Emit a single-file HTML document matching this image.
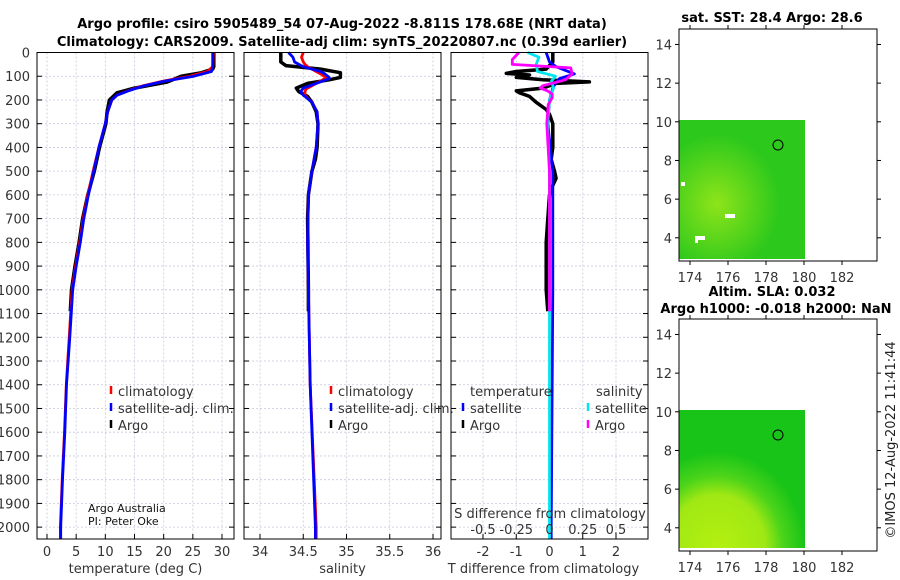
<!DOCTYPE html>
<html><head><meta charset="utf-8">
<style>
body{margin:0;background:#fff;}
svg{display:block;font-family:"DejaVu Sans","Liberation Sans",sans-serif;}
.tick{font-size:13px;fill:#333;}
.ttl{font-size:13px;font-weight:bold;fill:#000;}
</style></head>
<body>
<svg id="fig" width="900" height="580" viewBox="0 0 900 580" xmlns="http://www.w3.org/2000/svg">
<defs>
<radialGradient id="g1" cx="0.3" cy="0.6" r="0.5"><stop offset="0" stop-color="#8ee41a"/><stop offset="1" stop-color="#2cc81c"/></radialGradient>
<radialGradient id="g2" cx="0.3" cy="1" r="0.7"><stop offset="0" stop-color="#b4f010"/><stop offset="0.55" stop-color="#a0e814"/><stop offset="0.75" stop-color="#4cd41a"/><stop offset="1" stop-color="#18c418"/></radialGradient>
</defs>
<text class="ttl" x="342" y="28" text-anchor="middle">Argo profile: csiro 5905489_54 07-Aug-2022 -8.811S 178.68E (NRT data)</text>
<text class="ttl" x="342" y="46" text-anchor="middle">Climatology: CARS2009. Satellite-adj clim: synTS_20220807.nc (0.39d earlier)</text>
<g id="plots"></g>
<g>
<text class="ttl" x="772" y="22" text-anchor="middle">sat. SST: 28.4 Argo: 28.6</text>
<rect x="679" y="120" width="126" height="139" fill="url(#g1)"/>
<rect x="681" y="182" width="4" height="4" fill="#fff"/>
<rect x="695" y="236" width="10" height="4" fill="#fff"/>
<rect x="695" y="238" width="3" height="5" fill="#fff"/>
<rect x="725" y="214" width="10" height="4" fill="#fff"/>
<circle cx="778" cy="145" r="5" fill="none" stroke="#000" stroke-width="1"/>
<rect x="679" y="29" width="198" height="232" fill="none" stroke="#000" stroke-width="1"/>
</g>
<g>
<text class="ttl" x="772" y="296" text-anchor="middle">Altim. SLA: 0.032</text>
<text class="ttl" x="776" y="313" text-anchor="middle">Argo h1000: -0.018 h2000: NaN</text>
<rect x="679" y="410" width="126" height="138" fill="url(#g2)"/>
<circle cx="778" cy="435" r="5" fill="none" stroke="#000" stroke-width="1"/>
<rect x="679" y="319" width="198" height="232" fill="none" stroke="#000" stroke-width="1"/>
</g>
<g id="mapticks"></g>
<text x="895" y="440" transform="rotate(-90 895 440)" text-anchor="middle" style="font-size:13px;fill:#222">©IMOS 12-Aug-2022 11:41:44</text>
</svg>
<script>
const depthT = [0,60,80,100,120,140,160,180,200,250,300,400,500,600,700,800,900,1000,1200,1400,1600,1800,2000,2050];
const tClim  = [28.5,28.4,27.5,24.5,20,16.5,14,12,11.1,10.4,10.0,8.9,7.9,7.0,6.2,5.6,4.9,4.3,3.8,3.3,3.0,2.6,2.3,2.3];
const tSat   = [28.4,28.4,28.2,25.2,20.3,16.7,14.1,12.0,11.1,10.4,10.0,8.9,8.0,7.1,6.3,5.7,5.0,4.4,3.9,3.35,3.05,2.65,2.35,2.35];
const depthTA = [0,60,70,85,100,125,150,170,200,250,300,400,500,600,700,800,900,1000,1090];
const tArgo  = [28.6,28.6,28.4,26.5,23.0,20.5,15.0,12.0,10.7,10.3,10.1,9.0,8.1,7.0,6.1,5.5,4.8,4.2,4.0];
const depthS = [0,20,40,50,60,80,90,105,110,130,150,155,165,180,185,210,250,300,400,500,600,800,1000,1400,2000,2050];
const sClim  = [34.5,34.48,34.5,34.52,34.55,34.65,34.7,34.76,34.75,34.65,34.55,34.53,34.52,34.52,34.53,34.6,34.66,34.67,34.65,34.6,34.56,34.55,34.56,34.58,34.65,34.65];
const sSat   = [34.33,34.38,34.4,34.45,34.5,34.7,34.75,34.8,34.8,34.65,34.5,34.49,34.47,34.5,34.52,34.6,34.66,34.67,34.65,34.6,34.56,34.55,34.56,34.58,34.64,34.64];
const depthSA = [0,40,55,70,85,105,115,130,150,165,185,210,250,300,400,450,500,600,700,1000,1090];
const sArgo  = [34.24,34.24,34.3,34.7,34.93,34.93,34.8,34.55,34.42,34.45,34.55,34.6,34.65,34.67,34.66,34.64,34.6,34.56,34.55,34.56,34.56];
const depthDT = [0,40,70,80,88,95,105,115,124,130,150,162,170,185,210,240,260,300,400,450,500,530,560,600,700,800,900,1000,1090];
const dTArgo = [0.1,0.1,-0.1,-1.0,-1.3,-0.6,-1.0,-0.2,1.2,0.2,-0.2,-1.0,-0.9,-0.6,-0.4,-0.1,0.0,0.1,0.1,0.05,0.15,0.2,0.1,0.0,-0.05,-0.1,-0.1,-0.1,-0.05];
const depthDS = [0,40,60,90,110,125,150,200,300,500,1000,2000,2050];
const dTSat  = [-0.1,0.0,0.2,0.75,0.3,0.2,0.1,0.0,-0.05,0.1,0.1,0.05,0.05];
const depthCS = [0,20,50,80,100,120,150,200,300,500,1000,2000,2050];
const dSSat  = [-0.165,-0.08,-0.1,-0.09,0.045,0.015,0.03,0.0,-0.015,0.0,0.0,0.0,0.0];
const depthMS = [0,30,50,65,90,115,140,150,160,175,190,220,300,500,1090];
const dSArgo = [-0.23,-0.28,-0.28,0.16,0.17,0.12,-0.05,-0.07,-0.02,0.02,0.02,-0.01,-0.02,0.0,0.0];
const depthTicks = [0,100,200,300,400,500,600,700,800,900,1000,1100,1200,1300,1400,1500,1600,1700,1800,1900,2000];
const tTicks = [0,5,10,15,20,25,30];
const sTicks = [34,34.5,35,35.5,36];
const sTickLabels = ["34","34.5","35","35.5","36"];
const dTTicks = [-2,-1,0,1,2];
const dSTicks = [-0.5,-0.25,0,0.25,0.5];
const dSTickLabels = ["-0.5","-0.25","0","0.25","0.5"];
const lonTicks = [174,176,178,180,182];
const latTicks = [4,6,8,10,12,14];

const NS="http://www.w3.org/2000/svg";
const root=document.getElementById('plots');
function mk(tag,attrs,parent){const e=document.createElementNS(NS,tag);for(const k in attrs)e.setAttribute(k,attrs[k]);(parent||root).appendChild(e);return e;}
const yTop=52.5, yBot=539, dmax=2050;
const yD=d=>yTop+d*(yBot-yTop)/dmax;
function xs(x0,x1,v0,v1){return v=>x0+(v-v0)*(x1-x0)/(v1-v0);}
const xT=xs(47,222,0,30);
const xS=xs(260,433,34,36);
const xDT=xs(483,616,-2,2);
const xDS=xs(483,616,-0.5,0.5);

const panels=[
 {name:'temperature-panel',x0:37,x1:234,xf:xT,ticks:tTicks,labels:tTicks.map(String),title:'temperature (deg C)'},
 {name:'salinity-panel',x0:244,x1:441,xf:xS,ticks:sTicks,labels:sTickLabels,title:'salinity'},
 {name:'difference-panel',x0:451,x1:648,xf:xDT,ticks:dTTicks,labels:dTTicks.map(String),title:'T difference from climatology'}
];
panels.forEach((p,pi)=>{
 const g=mk('g',{});
 
 
 depthTicks.forEach(d=>{
  const l=mk('line',{x1:p.x0,x2:p.x1,y1:yD(d),y2:yD(d),stroke:'#c8c8dc','stroke-width':0.8,'stroke-dasharray':'2,2'},g);
  
  
  mk('line',{x1:p.x0,x2:p.x0+5,y1:yD(d),y2:yD(d),stroke:'#000'},g);
  mk('line',{x1:p.x1-5,x2:p.x1,y1:yD(d),y2:yD(d),stroke:'#000'},g);
  if(pi===0){const t=mk('text',{x:30,y:yD(d)+5,'text-anchor':'end',class:'tick'},g);t.textContent=d;
   }
 });
 p.ticks.forEach((v,i)=>{
  const x=p.xf(v);
  const l=mk('line',{x1:x,x2:x,y1:yTop,y2:yBot,stroke:'#c8c8dc','stroke-width':0.8,'stroke-dasharray':'2,2'},g);
  
  
  mk('line',{x1:x,x2:x,y1:yBot-5,y2:yBot,stroke:'#000'},g);
  const t=mk('text',{x:x,y:556,'text-anchor':'middle',class:'tick'},g);t.textContent=p.labels[i];
  
 });
 const t=mk('text',{x:(p.x0+p.x1)/2+(pi==2?-6:0),y:573,'text-anchor':'middle',class:'tick'},g);t.textContent=p.title;
 
 p.g=g;
});
function line(g,dep,vals,xf,col,w,name){
 const pts=dep.map((d,i)=>xf(vals[i]).toFixed(1)+','+yD(d).toFixed(1)).join(' ');
 const pl=mk('polyline',{points:pts,fill:'none',stroke:col,'stroke-width':w,'stroke-linejoin':'round'},g);
 
 
}
const g0=panels[0].g,g1=panels[1].g,g2=panels[2].g;
line(g0,depthTA,tArgo,xT,'#000',3.5,'argo-temperature-line');
line(g0,depthT,tClim,xT,'#f00',2.8,'climatology-temperature-line');
line(g0,depthT,tSat,xT,'#00f',2.8,'satellite-temperature-line');
line(g1,depthSA,sArgo,xS,'#000',3.5,'argo-salinity-line');
line(g1,depthS,sClim,xS,'#f00',2.8,'climatology-salinity-line');
line(g1,depthS,sSat,xS,'#00f',2.8,'satellite-salinity-line');
line(g2,depthDT,dTArgo,xDT,'#000',3.5,'argo-t-diff-line');
line(g2,depthDS,dTSat,xDT,'#00f',2.8,'satellite-t-diff-line');
line(g2,depthCS,dSSat,xDS,'#00e5ee',2.8,'satellite-s-diff-line');
line(g2,depthMS,dSArgo,xDS,'#f0f',2.8,'argo-s-diff-line');
panels.forEach(p=>{const r=mk('rect',{x:p.x0,y:yTop,width:p.x1-p.x0,height:yBot-yTop,fill:'none',stroke:'#000','stroke-width':1},p.g);
 });
dSTicks.forEach((v,i)=>{const t=mk('text',{x:xDS(v),y:534,'text-anchor':'middle',class:'tick'},g2);t.textContent=dSTickLabels[i];
 });
{const t=mk('text',{x:550,y:518,'text-anchor':'middle',class:'tick'},g2);t.textContent='S difference from climatology';
 }
function leg(g,x,y,col,label){
 const m=mk('line',{x1:x,x2:x,y1:y-10,y2:y-2,stroke:col,'stroke-width':2.5},g);
 
 const t=mk('text',{x:x+7,y:y,class:'tick'},g);t.textContent=label;
 
}
leg(g0,111,396,'#f00','climatology');leg(g0,111,413,'#00f','satellite-adj. clim.');leg(g0,111,430,'#000','Argo');
leg(g1,331,396,'#f00','climatology');leg(g1,331,413,'#00f','satellite-adj. clim.');leg(g1,331,430,'#000','Argo');
{const t=mk('text',{x:470,y:396,class:'tick'},g2);t.textContent='temperature';}
{const t=mk('text',{x:596,y:396,class:'tick'},g2);t.textContent='salinity';}
leg(g2,463,413,'#00f','satellite');leg(g2,463,430,'#000','Argo');
leg(g2,588,413,'#00e5ee','satellite');leg(g2,588,430,'#f0f','Argo');
{const t=mk('text',{x:88,y:512,style:'font-size:11px;fill:#111'},g0);t.textContent='Argo Australia';}
{const t=mk('text',{x:88,y:525,style:'font-size:11px;fill:#111'},g0);t.textContent='PI: Peter Oke';}
const mt=document.getElementById('mapticks');
[[29,261,278],[319,551,568]].forEach(([y0,y1,ly])=>{
 const yL=v=>y1+(v-2.8)*(y0-y1)/(14.8-2.8);
 const xL=v=>690+(v-174)*19;
 lonTicks.forEach(v=>{
  mk('line',{x1:xL(v),x2:xL(v),y1:y1,y2:y1+4,stroke:'#000'},mt);
  mk('line',{x1:xL(v),x2:xL(v),y1:y0,y2:y0-4,stroke:'#000'},mt);
  const t=mk('text',{x:xL(v),y:ly+4,'text-anchor':'middle',class:'tick'},mt);t.textContent=v;
  
 });
 latTicks.forEach(v=>{
  mk('line',{x1:675,x2:679,y1:yL(v),y2:yL(v),stroke:'#000'},mt);
  mk('line',{x1:877,x2:881,y1:yL(v),y2:yL(v),stroke:'#000'},mt);
  const t=mk('text',{x:672,y:yL(v)+5,'text-anchor':'end',class:'tick'},mt);t.textContent=v;
  
 });
});
</script>
</body></html>
